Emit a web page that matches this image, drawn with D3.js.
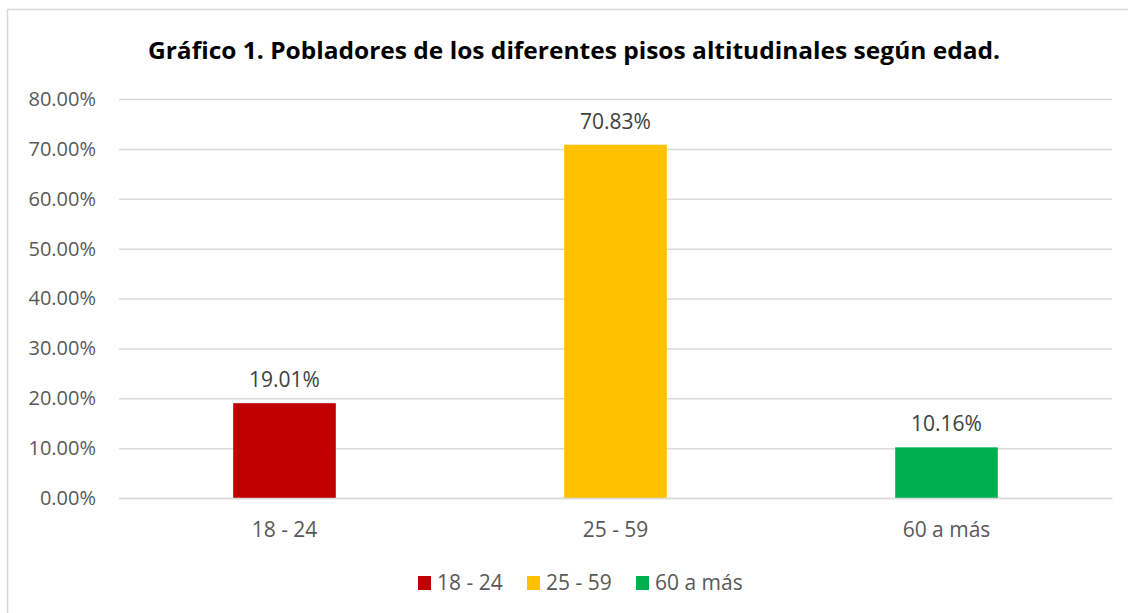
<!DOCTYPE html>
<html>
<head>
<meta charset="utf-8">
<script src="https://cdn.jsdelivr.net/npm/d3@7"></script>
<style>
  body { margin: 0; background: #fff; }
  text { font-family: "Open Sans", "Noto Sans", sans-serif; }
</style>
</head>
<body>
<script>
  const categories = ['18 - 24', '25 - 59', '60 a más'];
  const values = [0.1901, 0.7083, 0.1016];
  const colors = ['#c00000', '#ffc000', '#00b050'];
  const yTicks = [0, 0.1, 0.2, 0.3, 0.4, 0.5, 0.6, 0.7, 0.8];
  const title = 'Gráfico 1. Pobladores de los diferentes pisos altitudinales según edad.';

  const W = 1128, H = 613;
  const margin = { top: 99, right: 16, bottom: 115, left: 119 };
  const width = W - margin.left - margin.right;
  const height = H - margin.top - margin.bottom;

  const svg = d3.select('body').append('svg')
    .attr('width', W)
    .attr('height', H);

  // chart frame
  svg.append('rect')
    .attr('x', 7.5).attr('y', 9.5)
    .attr('width', W + 10).attr('height', H + 10)
    .attr('fill', '#fff')
    .attr('stroke', '#d9d9d9')
    .attr('stroke-width', 1.5);

  svg.append('text')
    .attr('x', 574)
    .attr('y', 59)
    .attr('text-anchor', 'middle')
    .attr('font-size', '23px')
    .attr('font-weight', 'bold')
    .attr('fill', '#000')
    .attr('textLength', 852)
    .attr('lengthAdjust', 'spacingAndGlyphs')
    .text(title);

  const g = svg.append('g')
    .attr('transform', `translate(${margin.left},${margin.top})`);

  const x = d3.scaleBand()
    .domain(categories)
    .range([0, width])
    .paddingInner(0.69)
    .paddingOuter(0.345);

  const y = d3.scaleLinear()
    .domain([0, 0.8])
    .range([height, 0]);

  // gridlines
  g.append('g')
    .call(d3.axisLeft(y).tickValues(yTicks).tickSize(-width).tickFormat(''))
    .call(a => a.select('.domain').remove())
    .call(a => a.selectAll('line').attr('stroke', '#d9d9d9').attr('stroke-width', 1.5));

  // y labels
  g.append('g')
    .call(d3.axisLeft(y).tickValues(yTicks).tickSize(0).tickPadding(23)
      .tickFormat(d => (d * 100).toFixed(2) + '%'))
    .call(a => a.select('.domain').remove())
    .call(a => a.selectAll('text')
      .attr('fill', '#595959')
      .attr('font-size', '20px')
      .style('font-family', '"Open Sans", sans-serif'));

  g.selectAll('.bar')
    .data(values)
    .enter().append('rect')
    .attr('class', 'bar')
    .attr('x', (d, i) => x(categories[i]))
    .attr('y', d => y(d))
    .attr('width', x.bandwidth())
    .attr('height', d => height - y(d))
    .attr('fill', (d, i) => colors[i]);

  g.selectAll('.val')
    .data(values)
    .enter().append('text')
    .attr('class', 'val')
    .attr('x', (d, i) => x(categories[i]) + x.bandwidth() / 2)
    .attr('y', d => y(d) - 16)
    .attr('text-anchor', 'middle')
    .attr('fill', '#404040')
    .attr('font-size', '21px')
    .text(d => (d * 100).toFixed(2) + '%');

  // x axis baseline + labels
  g.append('g')
    .attr('transform', `translate(0,${height})`)
    .call(d3.axisBottom(x).tickSize(0).tickPadding(24))
    .call(a => a.select('.domain').attr('stroke', '#d9d9d9').attr('stroke-width', 1.5))
    .call(a => a.selectAll('text')
      .attr('fill', '#595959')
      .attr('font-size', '21px')
      .style('font-family', '"Open Sans", sans-serif'));

  // legend
  const legendX = [418, 527, 636];
  const legend = svg.append('g');
  categories.forEach((c, i) => {
    legend.append('rect')
      .attr('x', legendX[i]).attr('y', 576)
      .attr('width', 13).attr('height', 14)
      .attr('fill', colors[i]);
    legend.append('text')
      .attr('x', legendX[i] + 19).attr('y', 590)
      .attr('fill', '#595959')
      .attr('font-size', '21px')
      .text(c);
  });
</script>
</body>
</html>
